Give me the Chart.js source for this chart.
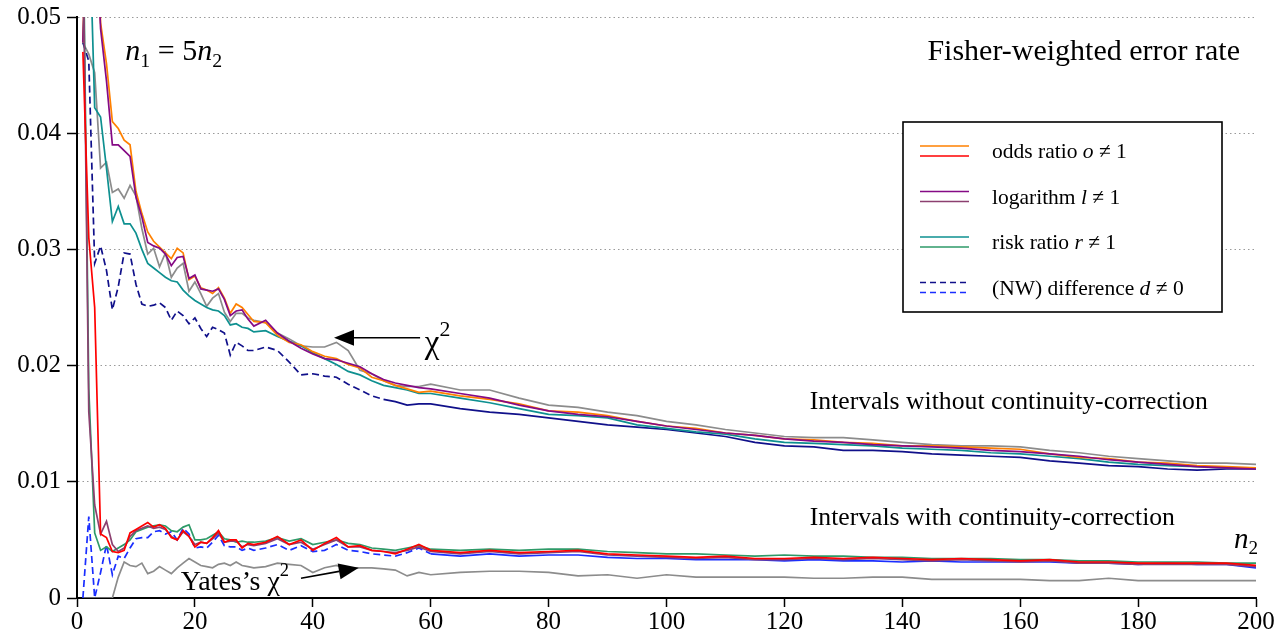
<!DOCTYPE html>
<html>
<head>
<meta charset="utf-8">
<script src="https://cdn.jsdelivr.net/npm/chart.js@4.4.1/dist/chart.umd.min.js"></script>
<style>
  html, body { margin: 0; padding: 0; background: #fff; }
  #wrap { width: 1283px; height: 641px; }
</style>
</head>
<body>
<div id="wrap"><canvas id="chart" width="1283" height="641"></canvas></div>
<script>
/* ---------- data ---------- */
const n2 = [1,2,3,4,5,6,7,8,9,10,11,12,13,14,15,16,17,18,19,20,21,22,23,24,25,26,27,28,29,30,
  32,34,36,38,40,42,44,46,48,50,52,54,56,58,60,
  65,70,75,80,85,90,95,100,105,110,115,120,125,130,135,140,145,150,155,160,165,170,175,180,185,190,195,200];

const xTicks = [0,20,40,60,80,100,120,140,160,180,200];
const yTicks = [0,0.01,0.02,0.03,0.04,0.05];

// intervals without continuity-correction
const oddsNoCC = [0.0478,0.068,0.062,0.0495,0.046,0.0410,0.0404,0.0394,0.0390,0.0350,0.0331,0.0315,0.0307,0.0302,0.0297,0.0292,0.0301,0.0297,0.0274,0.0277,0.0267,0.0265,0.0262,0.0267,0.0258,0.0245,0.0253,0.0250,0.0244,0.0238,
  0.0237,0.0226,0.0220,0.0218,0.0212,0.0208,0.0206,0.0201,0.0198,0.0190,0.0187,0.0183,0.0180,0.0177,0.0178,
  0.0174,0.0171,0.0167,0.0161,0.0160,0.0157,0.0152,0.0148,0.0146,0.0142,0.0140,0.0137,0.0136,0.0134,0.0133,0.0131,0.0131,0.0130,0.0129,0.0128,0.0124,0.0121,0.0120,0.0117,0.0116,0.0114,0.0113,0.0112];
const logNoCC = [0.0478,0.066,0.060,0.049,0.0445,0.0390,0.0390,0.0385,0.0380,0.0345,0.0328,0.0306,0.0303,0.0301,0.0296,0.0286,0.0293,0.0294,0.0275,0.0278,0.0266,0.0265,0.0264,0.0266,0.0257,0.0243,0.0247,0.0248,0.0240,0.0234,
  0.0239,0.0228,0.0221,0.0215,0.0210,0.0206,0.0205,0.0202,0.0199,0.0193,0.0188,0.0185,0.0183,0.0181,0.0180,
  0.0176,0.0172,0.0166,0.0161,0.0158,0.0156,0.0152,0.0148,0.0145,0.0142,0.0140,0.0137,0.0135,0.0134,0.0132,0.0131,0.0130,0.0129,0.0127,0.0126,0.0124,0.0122,0.0119,0.0117,0.0115,0.0113,0.0112,0.0111];
const riskNoCC = [0.0478,0.060,0.0422,0.0414,0.0370,0.0324,0.0337,0.0322,0.0322,0.0314,0.0300,0.0288,0.0284,0.0280,0.0276,0.0273,0.0272,0.0265,0.0260,0.0256,0.0253,0.0250,0.0248,0.0247,0.0243,0.0235,0.0236,0.0233,0.0232,0.0229,
  0.0230,0.0225,0.0221,0.0217,0.0211,0.0206,0.0201,0.0195,0.0192,0.0187,0.0183,0.0181,0.0179,0.0176,0.0176,
  0.0172,0.0168,0.0163,0.0158,0.0157,0.0155,0.0149,0.0146,0.0143,0.0141,0.0137,0.0134,0.0133,0.0132,0.0131,0.0129,0.0128,0.0127,0.0125,0.0124,0.0122,0.0120,0.0117,0.0115,0.0114,0.0113,0.0112,0.0112];
const diffNoCC = [0.0478,0.0462,0.0288,0.0303,0.0282,0.0248,0.0268,0.0297,0.0296,0.0270,0.0253,0.0251,0.0252,0.0254,0.0250,0.0239,0.0247,0.0243,0.0236,0.0241,0.0232,0.0225,0.0233,0.0231,0.0228,0.0209,0.0220,0.0217,0.0213,0.0213,
  0.0216,0.0213,0.0203,0.0192,0.0193,0.0191,0.0190,0.0184,0.0179,0.0174,0.0171,0.0169,0.0166,0.0167,0.0167,
  0.0163,0.0160,0.0158,0.0155,0.0152,0.0149,0.0147,0.0145,0.0142,0.0139,0.0134,0.0131,0.0130,0.0127,0.0127,0.0126,0.0124,0.0123,0.0122,0.0121,0.0118,0.0116,0.0114,0.0113,0.0111,0.0110,0.0111,0.0111];
const chiNoCC = [0.0478,0.0468,0.0452,0.0370,0.0375,0.0349,0.0352,0.0344,0.0355,0.0346,0.0318,0.0296,0.0301,0.0285,0.0297,0.0276,0.0284,0.0288,0.0264,0.0272,0.0262,0.0251,0.0258,0.0262,0.0246,0.0238,0.0245,0.0245,0.0241,0.0239,
  0.0237,0.0228,0.0223,0.0217,0.0216,0.0216,0.0220,0.0213,0.0196,0.0193,0.0187,0.0183,0.0182,0.0182,0.0184,
  0.0179,0.0179,0.0172,0.0166,0.0164,0.0160,0.0157,0.0152,0.0149,0.0145,0.0142,0.0139,0.0138,0.0138,0.0136,0.0134,0.0132,0.0131,0.0131,0.0130,0.0127,0.0125,0.0122,0.0120,0.0118,0.0116,0.0116,0.0115];

// intervals with continuity-correction
const oddsCC = [0.0470,0.0310,0.0250,0.0055,0.0052,0.0040,0.0039,0.0041,0.0056,0.0059,0.0062,0.0065,0.0061,0.0063,0.0060,0.0052,0.0050,0.0058,0.0053,0.0044,0.0048,0.0047,0.0052,0.0058,0.0048,0.0050,0.0050,0.0043,0.0047,0.0046,
  0.0048,0.0053,0.0046,0.0050,0.0041,0.0047,0.0052,0.0044,0.0045,0.0041,0.0040,0.0038,0.0042,0.0046,0.0041,
  0.0039,0.0041,0.0039,0.0040,0.0041,0.0038,0.0037,0.0036,0.0035,0.0036,0.0034,0.0034,0.0035,0.0034,0.0035,0.0034,0.0033,0.0034,0.0033,0.0032,0.0033,0.0031,0.0031,0.0030,0.0030,0.0030,0.0030,0.0028];
const logCC = [0.0580,0.0160,0.0080,0.0055,0.0066,0.0046,0.0040,0.0043,0.0053,0.0058,0.0060,0.0062,0.0060,0.0061,0.0059,0.0053,0.0050,0.0057,0.0053,0.0046,0.0048,0.0047,0.0051,0.0056,0.0048,0.0049,0.0049,0.0044,0.0046,0.0045,
  0.0047,0.0051,0.0046,0.0048,0.0042,0.0046,0.0050,0.0044,0.0044,0.0041,0.0040,0.0039,0.0041,0.0044,0.0040,
  0.0038,0.0040,0.0038,0.0039,0.0040,0.0037,0.0036,0.0035,0.0034,0.0035,0.0033,0.0033,0.0034,0.0033,0.0034,0.0033,0.0032,0.0033,0.0032,0.0031,0.0032,0.0030,0.0030,0.0029,0.0029,0.0029,0.0029,0.0027];
const riskCC = [0.0600,0.0180,0.0056,0.0041,0.0044,0.0040,0.0043,0.0046,0.0050,0.0057,0.0059,0.0061,0.0062,0.0063,0.0062,0.0058,0.0057,0.0061,0.0063,0.0050,0.0050,0.0051,0.0054,0.0057,0.0051,0.0050,0.0048,0.0049,0.0048,0.0048,
  0.0049,0.0052,0.0049,0.0051,0.0046,0.0048,0.0050,0.0047,0.0046,0.0043,0.0042,0.0041,0.0043,0.0045,0.0042,
  0.0041,0.0042,0.0041,0.0042,0.0042,0.0040,0.0039,0.0038,0.0038,0.0037,0.0036,0.0037,0.0036,0.0036,0.0035,0.0035,0.0034,0.0034,0.0034,0.0033,0.0033,0.0032,0.0032,0.0031,0.0031,0.0031,0.0030,0.0030];
const diffCC = [0.0,0.0070,0.0,0.0022,0.0046,0.0020,0.0036,0.0034,0.0043,0.0051,0.0052,0.0052,0.0057,0.0058,0.0055,0.0057,0.0050,0.0060,0.0055,0.0043,0.0044,0.0043,0.0048,0.0054,0.0045,0.0044,0.0044,0.0041,0.0043,0.0041,
  0.0043,0.0046,0.0041,0.0045,0.0040,0.0041,0.0046,0.0041,0.0040,0.0038,0.0037,0.0036,0.0039,0.0043,0.0038,
  0.0036,0.0038,0.0036,0.0037,0.0037,0.0035,0.0034,0.0034,0.0033,0.0033,0.0033,0.0032,0.0033,0.0032,0.0032,0.0031,0.0032,0.0031,0.0031,0.0031,0.0031,0.0030,0.0030,0.0029,0.0030,0.0029,0.0029,0.0026];
const yatesCC = [0,0,0,0,0,0,0.0018,0.0031,0.0028,0.0027,0.0030,0.0021,0.0023,0.0027,0.0024,0.0021,0.0026,0.0030,0.0034,0.0031,0.0028,0.0027,0.0026,0.0029,0.0030,0.0028,0.0031,0.0028,0.0027,0.0026,
  0.0027,0.0030,0.0029,0.0028,0.0022,0.0026,0.0028,0.0025,0.0026,0.0026,0.0025,0.0024,0.0019,0.0022,0.0020,
  0.0022,0.0023,0.0023,0.0022,0.0019,0.0020,0.0017,0.0020,0.0018,0.0018,0.0018,0.0018,0.0017,0.0017,0.0018,0.0018,0.0016,0.0016,0.0016,0.0016,0.0015,0.0015,0.0017,0.0015,0.0015,0.0015,0.0015,0.0015];

/* ---------- colours ---------- */
const C = {
  orange: '#ff8000', red: '#ff0000',
  purple: '#850a85', mauve: '#8c4070',
  teal: '#0e9090', green: '#2e9a68',
  navy: '#10108a', blue: '#1a2eff',
  gray: '#8c8c8c'
};
const SERIF = '"Liberation Serif", "DejaVu Serif", serif';

/* ---------- helpers ---------- */
const pts = ys => n2.map((x, i) => ({ x, y: ys[i] }));

function line(label, ys, color, dashUntil) {
  const ds = {
    label, data: pts(ys), borderColor: color, borderWidth: 1.7,
    pointRadius: 0, tension: 0, fill: false
  };
  if (dashUntil) {
    ds.segment = { borderDash: c => c.p0.parsed.x < dashUntil ? [7, 4] : [] };
  }
  return ds;
}

// bottom-to-top drawing order
const layers = [
  line('χ²', chiNoCC, C.gray),
  line('difference', diffNoCC, C.navy, 52),
  line('risk ratio', riskNoCC, C.teal),
  line('odds ratio', oddsNoCC, C.orange),
  line('logarithm', logNoCC, C.purple),
  line('Yates χ²', yatesCC, C.gray),
  line('difference CC', diffCC, C.blue, 60),
  line('risk ratio CC', riskCC, C.green),
  line('logarithm CC', logCC, C.mauve),
  line('odds ratio CC', oddsCC, C.red)
];
layers.forEach((d, i) => d.order = layers.length - i);

// rich text: parts of {t, i (italic), sub, sup}
function richWidth(ctx, parts, size) {
  let w = 0;
  parts.forEach(p => {
    const s = p.sub || p.sup ? size * 0.66 : size;
    ctx.font = (p.i ? 'italic ' : '') + s + 'px ' + SERIF;
    w += ctx.measureText(p.t).width;
  });
  return w;
}
function rich(ctx, x, y, parts, size, align) {
  if (align === 'right') x -= richWidth(ctx, parts, size);
  ctx.textAlign = 'left';
  ctx.textBaseline = 'alphabetic';
  ctx.fillStyle = '#000';
  parts.forEach(p => {
    const s = p.sub || p.sup ? size * 0.66 : size;
    const dy = p.sub ? size * 0.22 : p.sup ? -size * 0.5 : 0;
    ctx.font = (p.i ? 'italic ' : '') + s + 'px ' + SERIF;
    ctx.fillText(p.t, x, y + dy);
    x += ctx.measureText(p.t).width;
  });
}
function arrow(ctx, x1, y1, x2, y2) {
  const a = Math.atan2(y2 - y1, x2 - x1), L = 20, W = 8;
  ctx.save();
  ctx.strokeStyle = '#000'; ctx.fillStyle = '#000'; ctx.lineWidth = 1.6;
  ctx.beginPath(); ctx.moveTo(x1, y1);
  ctx.lineTo(x2 - L * Math.cos(a), y2 - L * Math.sin(a)); ctx.stroke();
  ctx.beginPath(); ctx.moveTo(x2, y2);
  ctx.lineTo(x2 - L * Math.cos(a) + W * Math.sin(a), y2 - L * Math.sin(a) - W * Math.cos(a));
  ctx.lineTo(x2 - L * Math.cos(a) - W * Math.sin(a), y2 - L * Math.sin(a) + W * Math.cos(a));
  ctx.closePath(); ctx.fill();
  ctx.restore();
}

/* ---------- annotations + legend ---------- */
const legendRows = [
  { c: [C.orange, C.red], dash: false, parts: [{ t: 'odds ratio ' }, { t: 'o', i: true }, { t: ' ≠ 1' }] },
  { c: [C.purple, C.mauve], dash: false, parts: [{ t: 'logarithm ' }, { t: 'l', i: true }, { t: ' ≠ 1' }] },
  { c: [C.teal, C.green], dash: false, parts: [{ t: 'risk ratio ' }, { t: 'r', i: true }, { t: ' ≠ 1' }] },
  { c: [C.navy, C.blue], dash: true, parts: [{ t: '(NW) difference ' }, { t: 'd', i: true }, { t: ' ≠ 0' }] }
];

const notes = {
  id: 'notes',
  afterDraw(chart) {
    const { ctx, chartArea: a, scales: { x, y } } = chart;
    ctx.save();

    rich(ctx, x.getPixelForValue(8.2), y.getPixelForValue(0.0463),
      [{ t: 'n', i: true }, { t: '1', sub: true }, { t: ' = 5' }, { t: 'n', i: true }, { t: '2', sub: true }], 30);
    rich(ctx, a.right - 16, y.getPixelForValue(0.0463), [{ t: 'Fisher-weighted error rate' }], 30, 'right');

    // chi² arrow
    arrow(ctx, x.getPixelForValue(58.2), y.getPixelForValue(0.0224), x.getPixelForValue(43.6), y.getPixelForValue(0.0224));
    rich(ctx, x.getPixelForValue(59.0), y.getPixelForValue(0.0211), [{ t: 'χ' }, { t: '2', sup: true }], 33);

    rich(ctx, x.getPixelForValue(124.3), y.getPixelForValue(0.0163), [{ t: 'Intervals without continuity-correction' }], 25.7);
    rich(ctx, x.getPixelForValue(124.3), y.getPixelForValue(0.0063), [{ t: 'Intervals with continuity-correction' }], 25.7);
    rich(ctx, a.right + 2, y.getPixelForValue(0.0043), [{ t: 'n', i: true }, { t: '2', sub: true }], 29, 'right');

    // Yates arrow
    rich(ctx, x.getPixelForValue(17.6), y.getPixelForValue(0.0007), [{ t: 'Yates’s χ' }, { t: '2', sup: true }], 28);
    arrow(ctx, x.getPixelForValue(38.0), y.getPixelForValue(0.0017), x.getPixelForValue(47.8), y.getPixelForValue(0.0026));

    // legend box
    const bx = a.right - 353, by = a.top + 105, bw = 319, bh = 190;
    ctx.fillStyle = '#fff';
    ctx.fillRect(bx, by, bw, bh);
    ctx.strokeStyle = '#000'; ctx.lineWidth = 1.6;
    ctx.strokeRect(bx, by, bw, bh);
    legendRows.forEach((r, i) => {
      const cy = by + 29 + i * 45.5;
      r.c.forEach((col, k) => {
        ctx.beginPath();
        ctx.strokeStyle = col; ctx.lineWidth = 1.6;
        ctx.setLineDash(r.dash ? [6, 4] : []);
        ctx.moveTo(bx + 17, cy - 5 + k * 10);
        ctx.lineTo(bx + 66, cy - 5 + k * 10);
        ctx.stroke();
      });
      ctx.setLineDash([]);
      rich(ctx, bx + 89, cy + 7, r.parts, 21.5);
    });
    ctx.restore();
  }
};

/* ---------- chart ---------- */
new Chart(document.getElementById('chart'), {
  type: 'line',
  data: { datasets: layers },
  options: {
    responsive: false,
    animation: false,
    layout: { padding: { top: 17, right: 27, left: 0, bottom: 0 } },
    plugins: { legend: { display: false }, tooltip: { enabled: false } },
    scales: {
      x: {
        type: 'linear', min: 0, max: 200,
        afterBuildTicks: s => { s.ticks = xTicks.map(v => ({ value: v })); },
        afterFit: s => { s.height = 43; s.paddingLeft = 0; s.paddingRight = 0; },
        ticks: { color: '#000', font: { family: SERIF, size: 25 }, padding: 0, maxRotation: 0 },
        grid: { drawOnChartArea: false, drawTicks: true, tickLength: 9, tickColor: '#000', tickWidth: 1.5 },
        border: { display: true, color: '#000', width: 2 }
      },
      y: {
        type: 'linear', min: 0, max: 0.05,
        afterBuildTicks: s => { s.ticks = yTicks.map(v => ({ value: v })); },
        afterFit: s => { s.width = 77; s.paddingTop = 0; s.paddingBottom = 0; },
        ticks: {
          color: '#000', font: { family: SERIF, size: 25 }, padding: 6,
          callback: v => v === 0 ? '0' : v.toFixed(2)
        },
        grid: {
          drawOnChartArea: true, drawTicks: true, tickLength: 10,
          color: c => c.tick && c.tick.value === 0 ? 'rgba(0,0,0,0)' : '#9a9a9a',
          lineWidth: 1, tickColor: '#000', tickWidth: 1.5, tickBorderDash: []
        },
        border: { display: true, color: '#000', width: 2, dash: [1.5, 3] }
      }
    }
  },
  plugins: [notes]
});
</script>
</body>
</html>
